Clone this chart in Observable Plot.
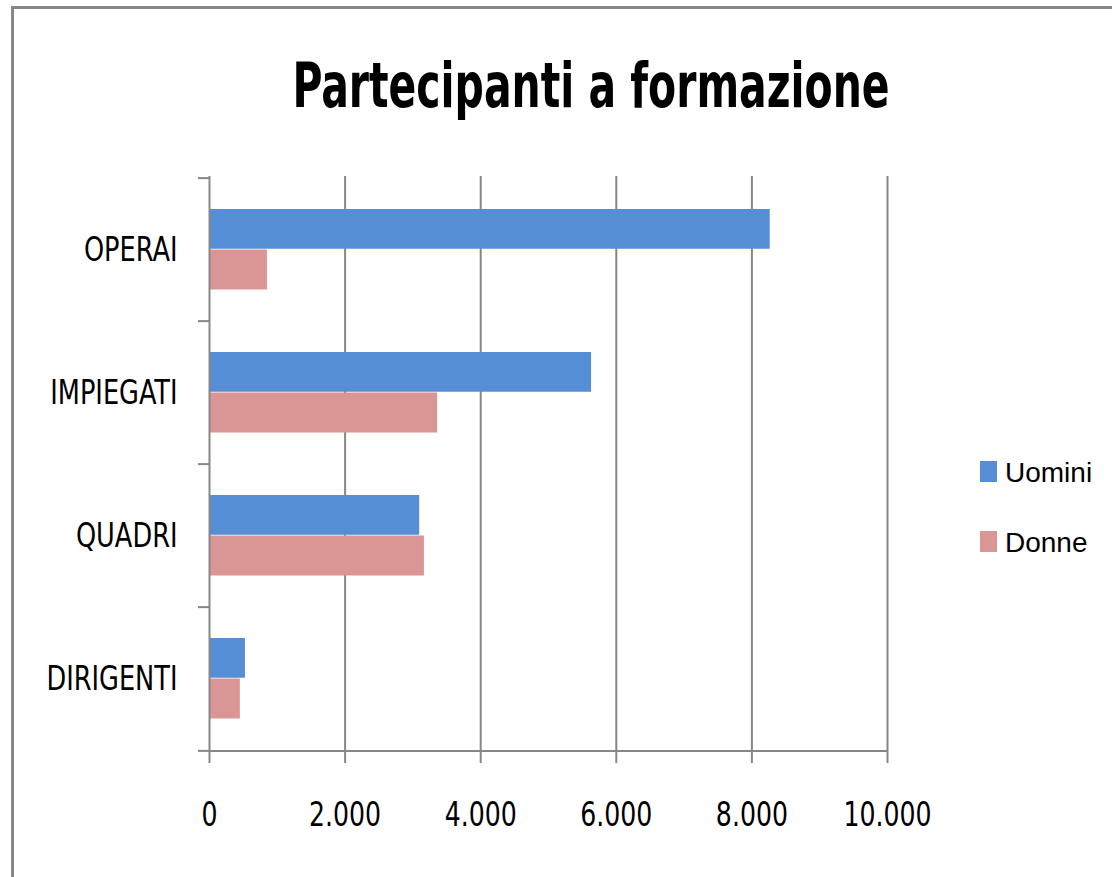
<!DOCTYPE html>
<html>
<head>
<meta charset="utf-8">
<script src="https://cdn.jsdelivr.net/npm/d3@7"></script>
<script src="https://cdn.jsdelivr.net/npm/@observablehq/plot@0.6"></script>
<style>
  html, body { margin: 0; padding: 0; background: #fff; overflow: hidden; }
  #wrap { position: relative; width: 1112px; height: 877px; overflow: hidden; background: #fff; }
  #border { position: absolute; left: 11px; top: 6px; width: 2000px; height: 2000px;
            border-top: 3px solid #878787; border-left: 3px solid #878787; }
  #chart { position: absolute; left: 0; top: 0; }
</style>
</head>
<body>
<div id="wrap"><div id="border"></div><div id="chart"></div></div>
<script>
const title = "Partecipanti a formazione";
const categories = ["OPERAI", "IMPIEGATI", "QUADRI", "DIRIGENTI"];
const seriesNames = ["Uomini", "Donne"];
const uomini = [8270, 5635, 3100, 530];
const donne = [855, 3365, 3170, 455];
const xTicks = [0, 2000, 4000, 6000, 8000, 10000];
const seriesColors = ["#558ed5", "#d99694"];

const GRID = "#878787";
const FONT = "'DejaVu Sans Condensed', 'DejaVu Sans', sans-serif";

const data = [];
categories.forEach((c, i) => {
  data.push({category: c, series: seriesNames[0], value: uomini[i]});
  data.push({category: c, series: seriesNames[1], value: donne[i]});
});

const fmt = d3.formatLocale({decimal: ",", thousands: ".", grouping: [3], currency: ["", "€"]}).format(",d");

const W = 1112, H = 877;
const mL = 209, mR = 225, mT = 176, mB = 126;
const bandH = (H - mT - mB) / categories.length;

const chart = Plot.plot({
  width: W,
  height: H,
  marginLeft: mL,
  marginRight: mR,
  marginTop: mT,
  marginBottom: mB,
  style: {fontFamily: FONT, color: "#000", background: "transparent", overflow: "visible"},
  x: {domain: [0, 10000]},
  y: {domain: categories, padding: 0},
  marks: [
    Plot.ruleX(xTicks.slice(1), {stroke: GRID, strokeWidth: 2}),
    Plot.barX(data, {filter: d => d.series === seriesNames[0], x: "value", y: "category",
      fill: seriesColors[0], insetTop: 31, insetBottom: bandH - 71.5}),
    Plot.barX(data, {filter: d => d.series === seriesNames[1], x: "value", y: "category",
      fill: seriesColors[1], insetTop: 71.5, insetBottom: 31.5}),
    Plot.ruleX([xTicks[0]], {stroke: GRID, strokeWidth: 2}),
    Plot.ruleY([categories[categories.length - 1]], {dy: bandH / 2, stroke: GRID, strokeWidth: 2}),
    Plot.axisX({ticks: xTicks, tickFormat: fmt, tickSize: 12, tickPadding: 41,
      stroke: GRID, strokeWidth: 2, fontSize: 28, label: null}),
    Plot.axisY({tickSize: 0, tickPadding: 32, fontSize: 28.5, label: null}),
    Plot.axisY({text: null, tickSize: 11, dy: -bandH / 2, stroke: GRID, strokeWidth: 2, label: null}),
    Plot.axisY({ticks: [categories[categories.length - 1]], text: null, tickSize: 11, dy: bandH / 2,
      stroke: GRID, strokeWidth: 2, label: null})
  ]
});

document.getElementById("chart").appendChild(chart);

const svg = d3.select(chart);

// title
svg.append("text")
  .attr("class", "title")
  .attr("x", 591).attr("y", 107)
  .attr("text-anchor", "middle")
  .style("font-family", FONT)
  .style("font-weight", "bold")
  .style("font-size", "45.5px")
  .attr("fill", "#000")
  .text(title);

// legend
const lg = svg.append("g").attr("class", "legend");
seriesNames.forEach((s, i) => {
  lg.append("rect").attr("x", 980).attr("y", 461 + i * 70).attr("width", 17).attr("height", 21)
    .attr("fill", seriesColors[i]);
  lg.append("text").attr("x", 1005).attr("y", 482 + i * 70)
    .attr("text-anchor", "start")
    .style("font-family", "'Liberation Sans', sans-serif").style("font-size", "28px")
    .attr("fill", "#000").text(s);
});

// vertical stretch of texts to mimic the reference
function stretch(nodes, sy, anchorY) {
  nodes.forEach(t => {
    const g = document.createElementNS("http://www.w3.org/2000/svg", "g");
    t.parentNode.insertBefore(g, t);
    g.appendChild(t);
    const b = g.getBBox();
    const cy = anchorY != null ? anchorY : b.y + b.height / 2;
    g.setAttribute("transform", `translate(0,${cy}) scale(1,${sy}) translate(0,${-cy})`);
  });
}
stretch(Array.from(chart.querySelectorAll("g[aria-label='y-axis tick label'] text")), 1.2);
stretch(Array.from(chart.querySelectorAll("g[aria-label='x-axis tick label'] text")), 1.22);
stretch(Array.from(chart.querySelectorAll("text.title")), 1.36, 107);
</script>
</body>
</html>
